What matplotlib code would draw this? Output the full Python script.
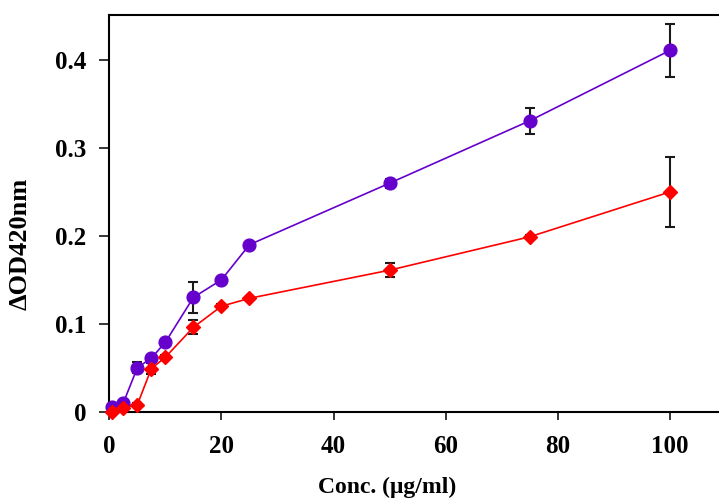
import matplotlib
matplotlib.use('Agg')
from matplotlib import pyplot as plt

# concentrations (ug/ml)
conc = [0.5, 2.5, 5, 7.5, 10, 15, 20, 25, 50, 75, 100]

# purple series (circles)
purple_y = [0.005, 0.01, 0.05, 0.061, 0.079, 0.13, 0.15, 0.19, 0.26, 0.331, 0.411]
purple_err = [0.002, 0.003, 0.006, 0.003, 0.003, 0.018, 0.003, 0.003, 0.005, 0.015, 0.03]

# red series (diamonds)
red_y = [0.0, 0.004, 0.008, 0.049, 0.062, 0.096, 0.12, 0.129, 0.161, 0.199, 0.25]
red_err = [0.002, 0.002, 0.002, 0.006, 0.003, 0.008, 0.003, 0.002, 0.008, 0.002, 0.04]

xticks = [0, 20, 40, 60, 80, 100]
yticks = [0, 0.1, 0.2, 0.3, 0.4]
ytick_labels = ['0', '0.1', '0.2', '0.3', '0.4']

plt.rcParams['font.family'] = ['Liberation Serif', 'DejaVu Serif']
plt.rcParams['font.weight'] = 'bold'

fig = plt.figure(figsize=(7.19, 5.04), dpi=100)
ax = fig.add_axes([109.3 / 719, 1 - 411.7 / 504, (726.0 - 109.3) / 719, (411.7 - 15) / 504])

# error bars first, markers on top
ax.errorbar(conc, purple_y, yerr=purple_err, fmt='none', ecolor='#1a1a1a',
            elinewidth=1.5, capsize=3.6, capthick=1.5, zorder=2, clip_on=False)
ax.errorbar(conc, red_y, yerr=red_err, fmt='none', ecolor='#1a1a1a',
            elinewidth=1.5, capsize=3.6, capthick=1.5, zorder=2, clip_on=False)

ax.plot(conc, purple_y, color='#6600CC', lw=1.2, marker='o', ms=9.2,
        zorder=3, clip_on=False)
ax.plot(conc, red_y, color='#FF0000', lw=1.2, marker='D', ms=7.2,
        zorder=4, clip_on=False)

ax.set_xlim(0, 110)
ax.set_ylim(0, 0.4513)
ax.set_xticks(xticks)
ax.set_yticks(yticks)
ax.set_yticklabels(ytick_labels)

for s in ['left', 'bottom', 'top']:
    ax.spines[s].set_linewidth(1.5)
ax.spines['right'].set_visible(False)

ax.tick_params(axis='y', direction='out', length=7, width=1.1, pad=9.5, labelsize=18)
ax.tick_params(axis='x', direction='out', length=5.5, width=1.1, pad=11, labelsize=18)

ax.set_xlabel('Conc. (\u03bcg/ml)', fontsize=17, fontweight='bold')
ax.set_ylabel('\u0394OD420nm', fontsize=19, fontweight='bold')
ax.xaxis.set_label_coords(0.45, -0.163)
ax.yaxis.set_label_coords(-0.126, 0.423)

fig.savefig('out.png', dpi=100)
